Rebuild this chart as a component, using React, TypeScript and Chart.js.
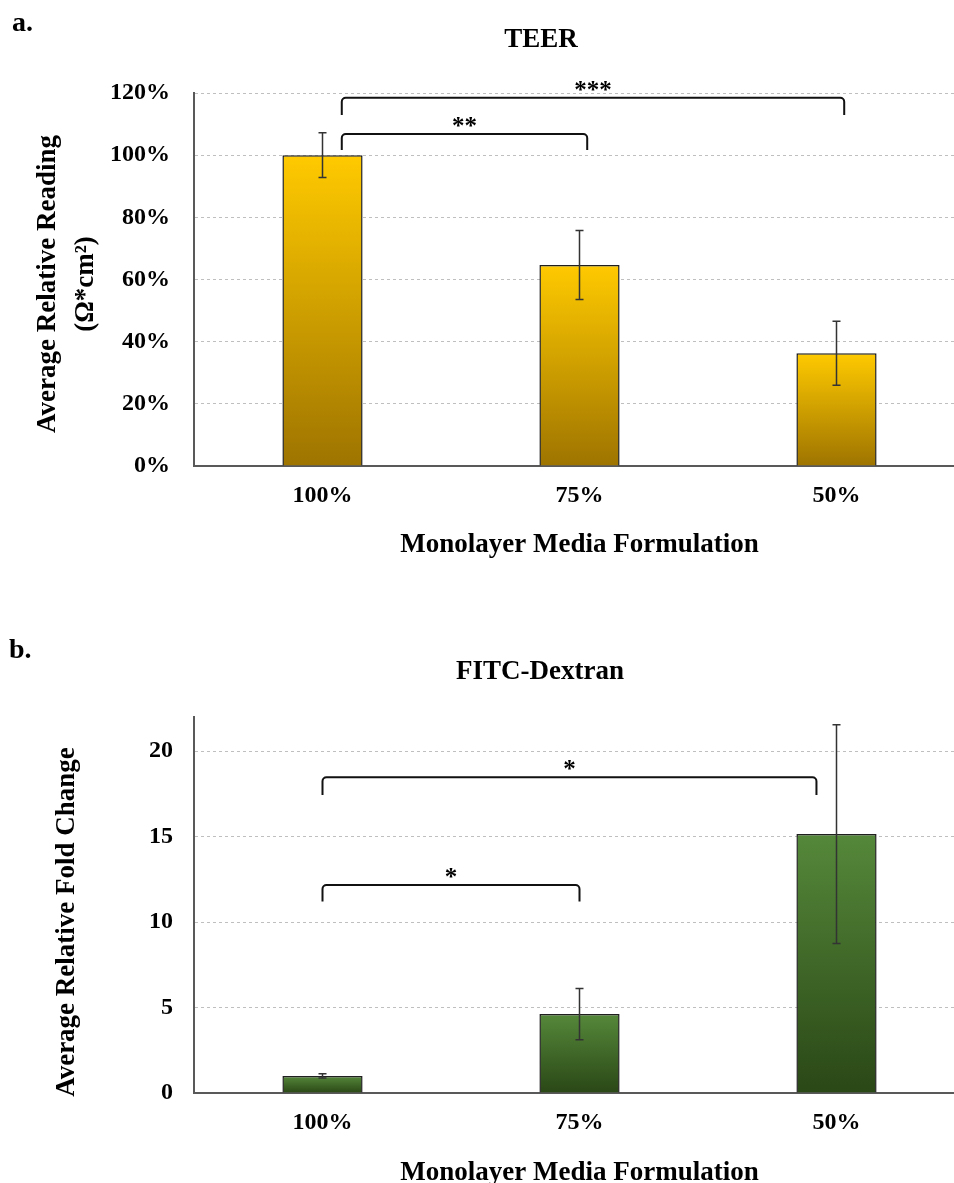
import React, { useEffect, useRef } from 'react';
import { Chart, registerables } from 'chart.js';

Chart.register(...registerables);

const SERIF = "'Times New Roman', 'Liberation Serif', serif";

// ---------- data ----------
const categories = ['100%', '75%', '50%'];

const teerValues = [100, 64.7, 36.3];
const teerErrors = [7.2, 11.1, 10.3];
const teerAxis = { min: 0, max: 120, step: 20 };
const teerBrackets = [
  { from: 0.075, to: 1.03, y: 106.8, drop: 5.1, label: '**' },
  { from: 0.075, to: 2.03, y: 118.5, drop: 5.6, label: '***' },
];

const fitcValues = [1.0, 4.62, 15.15];
const fitcErrors = [0.12, 1.5, 6.4];
const fitcAxis = { min: 0, max: 22, step: 5 };
const fitcBrackets = [
  { from: 0, to: 1, y: 12.17, drop: 0.97, label: '*' },
  { from: 0, to: 1.922, y: 18.47, drop: 1.03, label: '*' },
];

const xAxisTitle = 'Monolayer Media Formulation';

// ---------- styling ----------
const AXIS = '#595959';
const GRID = '#BFBFBF';

type Bracket = { from: number; to: number; y: number; drop: number; label: string };

type Panel = {
  values: number[];
  errors: number[];
  axis: { min: number; max: number; step: number };
  brackets: Bracket[];
  fmt: (v: number) => string;
  colors: [string, string];
  panelLabel: string;
  panelX: number;
  panelY: number;
  title: string;
  titleX: number;
  titleY: number;
  yTitle: { text: string; x: number }[];
  yTitleCY: number;
  areaTop: number;
  xAxisHeight: number;
  xTitlePad: number;
  yTickPad: number;
};

function buildChart(canvas: HTMLCanvasElement, p: Panel) {
  const decor = {
    id: 'decor',
    afterDatasetsDraw(chart: any) {
      const ctx = chart.ctx as CanvasRenderingContext2D;
      const y = chart.scales.y;
      const meta = chart.getDatasetMeta(0);
      ctx.save();
      ctx.strokeStyle = '#333333';
      ctx.lineWidth = 1.5;
      p.values.forEach((v, i) => {
        const x = meta.data[i].x;
        const yt = y.getPixelForValue(v + p.errors[i]);
        const yb = y.getPixelForValue(v - p.errors[i]);
        ctx.beginPath();
        ctx.moveTo(x, yt);
        ctx.lineTo(x, yb);
        ctx.moveTo(x - 4, yt);
        ctx.lineTo(x + 4, yt);
        ctx.moveTo(x - 4, yb);
        ctx.lineTo(x + 4, yb);
        ctx.stroke();
      });
      ctx.restore();
    },
    afterDraw(chart: any) {
      const ctx = chart.ctx as CanvasRenderingContext2D;
      const xs = chart.scales.x;
      const ys = chart.scales.y;
      ctx.save();
      // brackets
      ctx.strokeStyle = '#111111';
      ctx.lineWidth = 2;
      ctx.fillStyle = '#000';
      p.brackets.forEach((b) => {
        const x1 = xs.getPixelForValue(b.from);
        const x2 = xs.getPixelForValue(b.to);
        const yt = ys.getPixelForValue(b.y);
        const yb = ys.getPixelForValue(b.y - b.drop);
        const r = 4;
        ctx.beginPath();
        ctx.moveTo(x1, yb);
        ctx.lineTo(x1, yt + r);
        ctx.arcTo(x1, yt, x1 + r, yt, r);
        ctx.lineTo(x2 - r, yt);
        ctx.arcTo(x2, yt, x2, yt + r, r);
        ctx.lineTo(x2, yb);
        ctx.stroke();
        ctx.font = `bold 25px ${SERIF}`;
        ctx.textAlign = 'center';
        ctx.textBaseline = 'alphabetic';
        ctx.fillText(b.label, (x1 + x2) / 2, yt);
      });
      // panel label
      ctx.font = `bold 28px ${SERIF}`;
      ctx.textAlign = 'left';
      ctx.textBaseline = 'alphabetic';
      ctx.fillText(p.panelLabel, p.panelX, p.panelY);
      // title
      ctx.font = `bold 27px ${SERIF}`;
      ctx.textAlign = 'center';
      ctx.textBaseline = 'middle';
      ctx.fillText(p.title, p.titleX, p.titleY);
      // y title
      p.yTitle.forEach((line) => {
        ctx.save();
        ctx.translate(line.x, p.yTitleCY);
        ctx.rotate(-Math.PI / 2);
        ctx.font = `bold 27px ${SERIF}`;
        ctx.textAlign = 'center';
        ctx.textBaseline = 'alphabetic';
        ctx.fillText(line.text, 0, 0);
        ctx.restore();
      });
      ctx.restore();
    },
  };

  const grad = (c: any) => {
    const chart = c.chart;
    if (!chart.chartArea || c.type !== 'data') return p.colors[0];
    const ys = chart.scales.y;
    const top = ys.getPixelForValue(c.raw as number);
    const bot = ys.getPixelForValue(0);
    const g = chart.ctx.createLinearGradient(0, top, 0, bot);
    g.addColorStop(0, p.colors[0]);
    g.addColorStop(1, p.colors[1]);
    return g;
  };

  return new Chart(canvas, {
    type: 'bar',
    data: {
      labels: categories,
      datasets: [
        {
          data: p.values,
          backgroundColor: grad,
          borderColor: '#1f1f1f',
          borderWidth: 1.5,
          categoryPercentage: 1,
          barPercentage: 0.312,
        },
      ],
    },
    options: {
      responsive: false,
      animation: false,
      layout: { padding: { top: p.areaTop, right: 115, left: 0, bottom: 0 } },
      plugins: {
        legend: { display: false },
        tooltip: { enabled: false },
        title: { display: false },
      },
      scales: {
        x: {
          grid: { display: false, drawTicks: false },
          border: { display: true, color: AXIS, width: 2 },
          ticks: {
            color: '#000',
            padding: 15,
            font: { family: SERIF, size: 24, weight: 'bold' },
          },
          title: {
            display: true,
            text: xAxisTitle,
            color: '#000',
            font: { family: SERIF, size: 27, weight: 'bold' },
            padding: { top: 0, bottom: p.xTitlePad },
          },
          afterFit: (s: any) => {
            s.height = p.xAxisHeight;
          },
        },
        y: {
          min: p.axis.min,
          max: p.axis.max,
          grid: {
            drawTicks: false,
            lineWidth: 1,
            color: (c: any) => (c.tick && c.tick.value === 0 ? 'rgba(0,0,0,0)' : GRID),
          },
          border: { display: true, color: AXIS, width: 2, dash: [3, 3] },
          ticks: {
            stepSize: p.axis.step,
            includeBounds: false,
            color: '#000',
            padding: p.yTickPad,
            font: { family: SERIF, size: 24, weight: 'bold' },
            callback: (v: any) => p.fmt(Number(v)),
          },
          afterFit: (s: any) => {
            s.width = 194;
          },
        },
      },
    } as any,
    plugins: [decor],
  });
}

const teerPanel: Panel = {
  values: teerValues,
  errors: teerErrors,
  axis: teerAxis,
  brackets: teerBrackets,
  fmt: (v) => `${v}%`,
  colors: ['#FFCA00', '#9E7400'],
  panelLabel: 'a.',
  panelX: 12,
  panelY: 31,
  title: 'TEER',
  titleX: 541,
  titleY: 40,
  yTitle: [
    { text: 'Average Relative Reading', x: 55 },
    { text: '(Ω*cm²)', x: 93 },
  ],
  yTitleCY: 284,
  areaTop: 93,
  xAxisHeight: 134,
  xTitlePad: 38.8,
  yTickPad: 24,
};

const fitcPanel: Panel = {
  values: fitcValues,
  errors: fitcErrors,
  axis: fitcAxis,
  brackets: fitcBrackets,
  fmt: (v) => `${v}`,
  colors: ['#55883A', '#2A4716'],
  panelLabel: 'b.',
  panelX: 9,
  panelY: 58,
  title: 'FITC-Dextran',
  titleX: 540,
  titleY: 72,
  yTitle: [{ text: 'Average Relative Fold Change', x: 74 }],
  yTitleCY: 322,
  areaTop: 117,
  xAxisHeight: 127,
  xTitlePad: 31,
  yTickPad: 21,
};

function ChartCanvas({ panel, width, height }: { panel: Panel; width: number; height: number }) {
  const ref = useRef<HTMLCanvasElement | null>(null);
  useEffect(() => {
    if (!ref.current) return;
    const chart = buildChart(ref.current, panel);
    return () => chart.destroy();
  }, [panel]);
  return <canvas ref={ref} width={width} height={height} style={{ display: 'block' }} />;
}

export default function App() {
  return (
    <div
      style={{
        position: 'absolute',
        left: 0,
        top: 0,
        width: 954,
        height: 1183,
        overflow: 'hidden',
        background: '#ffffff',
      }}
    >
      <div style={{ position: 'absolute', left: 0, top: 0, width: 1080, height: 600 }}>
        <ChartCanvas panel={teerPanel} width={1080} height={600} />
      </div>
      <div style={{ position: 'absolute', left: 0, top: 600, width: 1080, height: 620 }}>
        <ChartCanvas panel={fitcPanel} width={1080} height={620} />
      </div>
    </div>
  );
}
